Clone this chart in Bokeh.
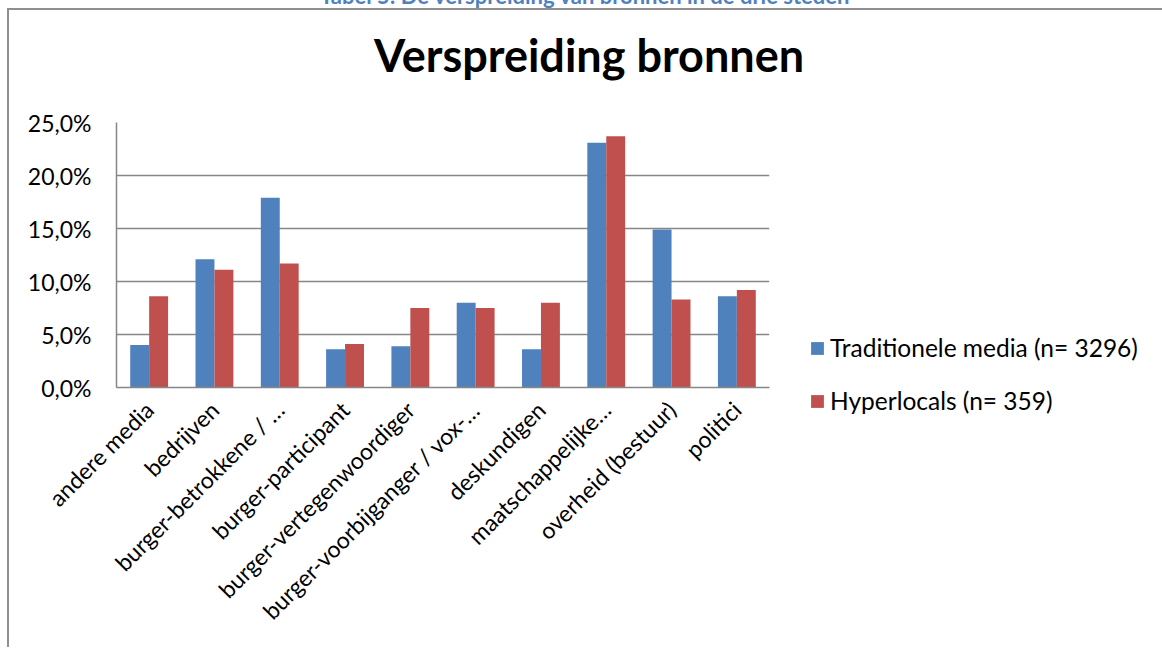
import math
from bokeh.plotting import figure
from bokeh.layouts import column
from bokeh.models import (ColumnDataSource, FactorRange, Range1d, FixedTicker,
                          Legend, LegendItem, Div)
from bokeh.transform import dodge
from bokeh.embed import file_html
from bokeh.resources import INLINE

categories = ["andere media", "bedrijven", "burger-betrokkene / …", "burger-participant",
              "burger-vertegenwoordiger", "burger-voorbijganger / vox-…", "deskundigen",
              "maatschappelijke…", "overheid (bestuur)", "politici"]
traditionele = [4.0, 12.1, 17.9, 3.6, 3.9, 8.0, 3.6, 23.1, 14.9, 8.6]
hyperlocals = [8.6, 11.1, 11.7, 4.1, 7.5, 7.5, 8.0, 23.7, 8.3, 9.2]
series_names = ["Traditionele media (n= 3296)", "Hyperlocals (n= 359)"]
y_ticks = [0, 5, 10, 15, 20, 25]
y_tick_labels = ["0,0%", "5,0%", "10,0%", "15,0%", "20,0%", "25,0%"]
title_text = "Verspreiding bronnen"
caption_text = "Tabel 5: De verspreiding van bronnen in de drie steden"

FONT = "Lato"
BLUE = "#4F81BD"
RED = "#C0504D"
GRID = "#868686"
BORDER = "#8f8f8f"

source = ColumnDataSource(data=dict(cat=categories, trad=traditionele, hyper=hyperlocals))

p = figure(x_range=FactorRange(*categories), y_range=Range1d(0, 25),
           frame_width=653, frame_height=265,
           min_border_left=107, min_border_top=32, min_border_bottom=260,
           min_border_right=390,
           output_backend="svg", toolbar_location=None, title=None)

r1 = p.vbar(x=dodge("cat", -0.145, range=p.x_range), top="trad", width=0.29,
            source=source, fill_color=BLUE, line_color=None)
r2 = p.vbar(x=dodge("cat", 0.145, range=p.x_range), top="hyper", width=0.29,
            source=source, fill_color=RED, line_color=None)

p.outline_line_color = None
p.xgrid.grid_line_color = None
p.ygrid.grid_line_color = GRID
p.ygrid.grid_line_width = 1.5
p.ygrid.ticker = FixedTicker(ticks=y_ticks)

p.yaxis.ticker = FixedTicker(ticks=y_ticks)
p.yaxis.major_label_overrides = {t: l for t, l in zip(y_ticks, y_tick_labels)}
p.yaxis.minor_tick_line_color = None
p.yaxis.major_tick_line_color = None
p.yaxis.major_tick_out = 0
p.yaxis.major_label_standoff = 25
for ax in (p.xaxis, p.yaxis):
    ax.axis_line_color = GRID
    ax.axis_line_width = 1.5
    ax.major_label_text_font = FONT
    ax.major_label_text_font_size = "23px"
    ax.major_label_text_color = "black"

p.xaxis.major_tick_line_color = None
p.xaxis.major_tick_out = 0
p.xaxis.major_label_orientation = math.pi / 4
p.xaxis.major_label_standoff = 18

legend = Legend(items=[LegendItem(label=series_names[0], renderers=[r1]),
                       LegendItem(label=series_names[1], renderers=[r2])],
                location=(40, -28), orientation="vertical",
                border_line_color=None, background_fill_alpha=0,
                label_text_font=FONT, label_text_font_size="24.5px",
                label_text_color="black",
                glyph_width=16, glyph_height=16, label_standoff=5,
                spacing=24, padding=0, margin=0)
p.add_layout(legend, "right")

caption = Div(text=('<div style="position:relative; left:320px; top:-15px; '
                    'white-space:nowrap; font-family:Lato; font-weight:bold; '
                    'font-size:22px; line-height:22px; color:#4F81BD;">'
                    + caption_text + '</div>'),
              width=1150, height=8, margin=0, styles={"overflow": "hidden"})

title_div = Div(text=('<div style="position:relative; left:365px; top:23px; '
                      'white-space:nowrap; font-family:Lato; font-weight:bold; '
                      'font-size:45px; line-height:45px; color:black;">'
                      + title_text + '</div>'),
                width=1150, height=80, margin=0)

box = column(title_div, p, spacing=0,
             styles={"border-top": "2px solid " + BORDER,
                     "border-left": "2px solid " + BORDER,
                     "margin-left": "7px"})

layout = column(caption, box, spacing=0)
open("out.html", "w").write(file_html(layout, INLINE))
